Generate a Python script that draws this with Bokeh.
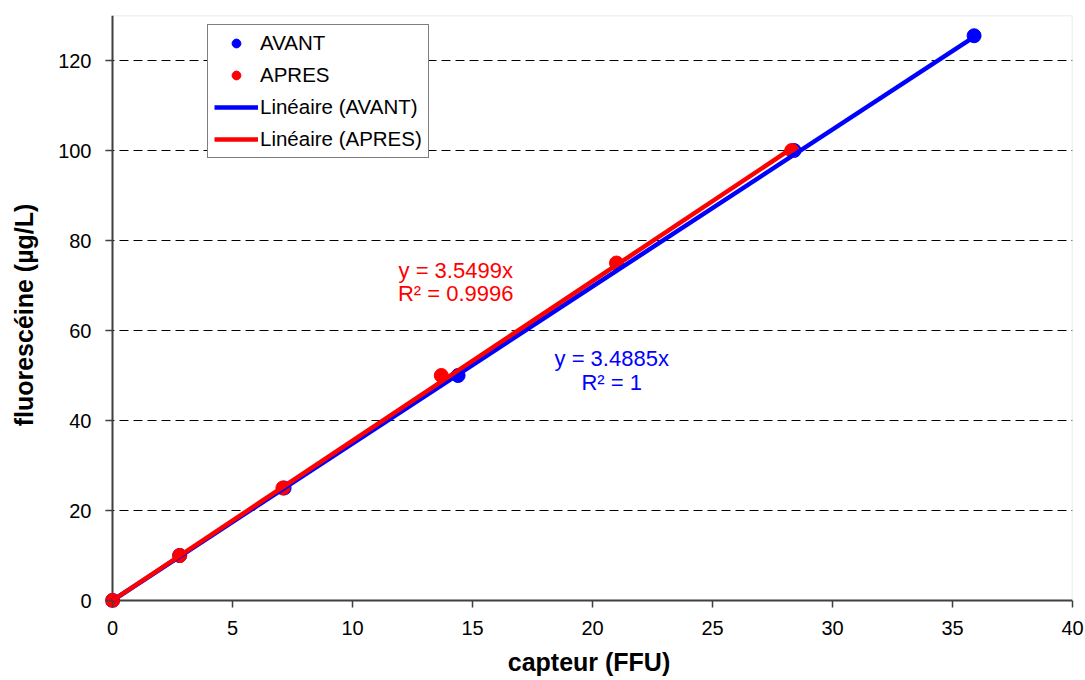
from bokeh.plotting import figure
from bokeh.models import Range1d, FixedTicker, Label, Span, BoxAnnotation
from bokeh.embed import file_html
from bokeh.resources import INLINE

# ---- data ----
avant_x = [0.0, 2.8, 7.15, 14.4, 28.4, 35.9]
avant_y = [0, 10, 25, 50, 100, 125.5]
apres_x = [0.0, 2.8, 7.1, 13.7, 21.0, 28.3]
apres_y = [0, 10, 25, 50, 75, 100]
slope_avant = 3.4885
slope_apres = 3.5499
r2_avant = "1"
r2_apres = "0.9996"
x_ticks = [0, 5, 10, 15, 20, 25, 30, 35, 40]
y_ticks = [0, 20, 40, 60, 80, 100, 120]
X_MAX = 40
Y_MAX = 130

FONT = "Liberation Sans"

# frame geometry (pixels)
FRAME_W = 967
FRAME_H = 592
PAD = 7  # small gap so that markers at the origin are not clipped
x_start = -PAD * X_MAX / (FRAME_W - PAD)
y_start = -PAD * Y_MAX / (FRAME_H - PAD)

p = figure(width=1084, height=679, output_backend="svg", toolbar_location=None,
           x_range=Range1d(x_start, X_MAX), y_range=Range1d(y_start, Y_MAX),
           min_border_left=105, min_border_right=12, min_border_top=15, min_border_bottom=72)

p.background_fill_color = "white"
p.border_fill_color = "white"
p.outline_line_color = None

p.xgrid.grid_line_color = None
p.ygrid.grid_line_color = "black"
p.ygrid.grid_line_dash = "9 5"
p.ygrid.grid_line_width = 1
p.ygrid.ticker = FixedTicker(ticks=y_ticks[1:])

for ax in (p.xaxis[0], p.yaxis[0]):
    ax.axis_line_color = None
    ax.major_tick_line_color = "#404040"
    ax.major_tick_line_width = 1.5
    ax.major_tick_out = 0
    ax.major_tick_in = PAD
    ax.minor_tick_line_color = None
    ax.major_label_text_font = FONT
    ax.major_label_text_font_size = "20px"
    ax.major_label_text_color = "black"
    ax.axis_label_text_font = FONT
    ax.axis_label_text_font_size = "25px"
    ax.axis_label_text_font_style = "bold"
    ax.axis_label_text_color = "black"

p.xaxis.ticker = FixedTicker(ticks=x_ticks)
p.yaxis.ticker = FixedTicker(ticks=y_ticks)
p.xaxis.axis_label = "capteur (FFU)"
p.yaxis.axis_label = "fluoresc\u00e9ine  (\u00b5g/L)"
p.xaxis.major_label_standoff = 13
p.yaxis.major_label_standoff = 14
p.xaxis.axis_label_standoff = 10
p.yaxis.axis_label_standoff = 17

# plot-area border (top/right light grey) and axis lines at 0
p.add_layout(BoxAnnotation(left=0, right=X_MAX, bottom=0, top=Y_MAX, fill_alpha=0,
                           line_color="#a6a6a6", line_width=1.5, level="underlay"))
p.add_layout(Span(location=0, dimension="height", line_color="#404040", line_width=2,
                  level="underlay"))
p.add_layout(Span(location=0, dimension="width", line_color="#404040", line_width=2,
                  level="underlay"))

# markers
p.scatter(avant_x, avant_y, size=14, color="#0000ff", legend_label="AVANT")
p.scatter(apres_x, apres_y, size=14, color="#ff0000", legend_label="APRES")

# trendlines y = slope * x (from 0 to max x of each series)
ta_x = [0, max(avant_x)]
tb_x = [0, max(apres_x)]
p.line(ta_x, [slope_avant * v for v in ta_x], line_width=4.5, color="#0000ff",
       legend_label="Lin\u00e9aire (AVANT)")
p.line(tb_x, [slope_apres * v for v in tb_x], line_width=4.5, color="#ff0000",
       legend_label="Lin\u00e9aire (APRES)")

# equation labels
def lab(x, y, t, c):
    p.add_layout(Label(x=x, y=y, text=t, text_color=c, text_font=FONT,
                       text_font_size="22px", text_align="center", text_baseline="middle"))

lab(14.3, 73.3, "y = %.4fx" % slope_apres, "#ff0000")
lab(14.3, 68.2, "R\u00b2 = " + r2_apres, "#ff0000")
lab(20.8, 53.8, "y = %.4fx" % slope_avant, "#0000ff")
lab(20.8, 48.4, "R\u00b2 = " + r2_avant, "#0000ff")

leg = p.legend[0]
leg.location = (102, 449)
leg.label_text_font = FONT
leg.label_text_font_size = "20.5px"
leg.label_text_color = "black"
leg.glyph_width = 44
leg.glyph_height = 22
leg.label_height = 22
leg.label_standoff = 2
leg.padding = 6
leg.spacing = 8
leg.margin = 0
leg.border_line_color = "black"
leg.border_line_width = 1
leg.background_fill_color = "white"
leg.background_fill_alpha = 1

open("out.html", "w").write(file_html(p, INLINE))
